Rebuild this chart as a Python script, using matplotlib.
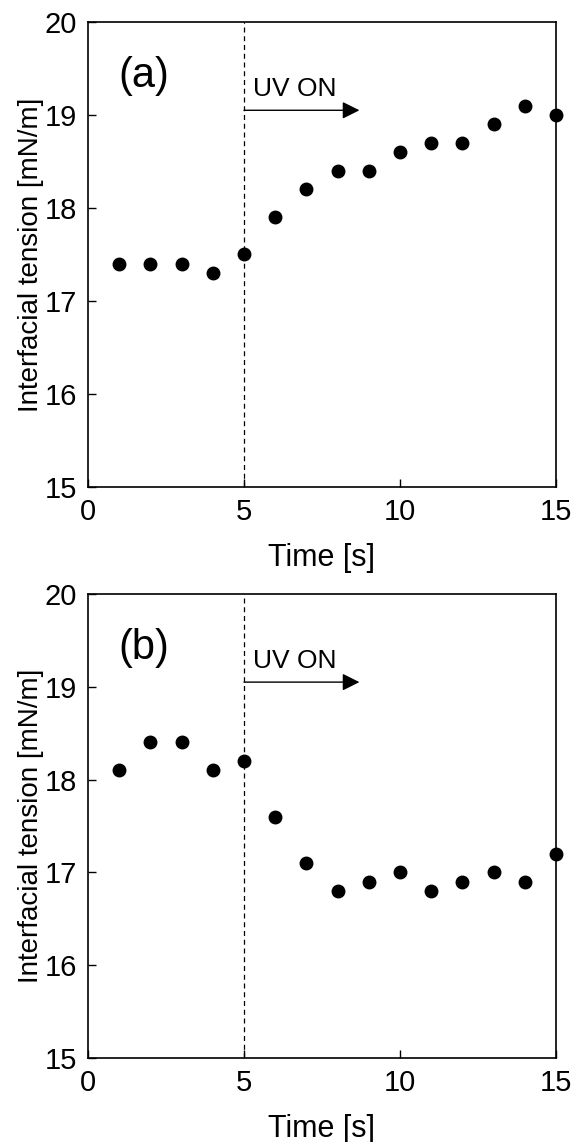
import matplotlib.pyplot as plt
import matplotlib

matplotlib.rcParams['font.family'] = ['Liberation Sans', 'DejaVu Sans']

time_s = [1, 2, 3, 4, 5, 6, 7, 8, 9, 10, 11, 12, 13, 14, 15]
tension_a = [17.4, 17.4, 17.4, 17.3, 17.5, 17.9, 18.2, 18.4, 18.4, 18.6, 18.7, 18.7, 18.9, 19.1, 19.0]
tension_b = [18.1, 18.4, 18.4, 18.1, 18.2, 17.6, 17.1, 16.8, 16.9, 17.0, 16.8, 16.9, 17.0, 16.9, 17.2]
panels = ['(a)', '(b)']
uv_on_time = 5

fig = plt.figure(figsize=(5.74, 11.42), dpi=100)
ax_a = fig.add_axes([0.1533, 0.5736, 0.8153, 0.4072])
ax_b = fig.add_axes([0.1533, 0.0736, 0.8153, 0.4063])

for ax, data, label in zip([ax_a, ax_b], [tension_a, tension_b], panels):
    ax.plot(time_s, data, 'o', color='black', markersize=9, clip_on=False, zorder=3)
    ax.axvline(uv_on_time, color='black', linestyle=(0, (4, 3)), linewidth=0.9)
    ax.set_xlim(0, 15)
    ax.set_ylim(15, 20)
    ax.set_xticks([0, 5, 10, 15])
    ax.set_yticks([15, 16, 17, 18, 19, 20])
    ax.tick_params(direction='in', length=6, width=1, labelsize=21, pad=8)
    for s in ax.spines.values():
        s.set_linewidth(1.2)
    ax.set_xlabel('Time [s]', fontsize=22)
    ax.set_ylabel('Interfacial tension [mN/m]', fontsize=20)
    ax.xaxis.set_label_coords(0.5, -0.12)
    ax.yaxis.set_label_coords(-0.095, 0.5)
    ax.text(0.96, 19.42, label, fontsize=30, ha='left', va='center')
    ax.annotate('', xy=(8.7, 19.05), xytext=(uv_on_time, 19.05),
                arrowprops=dict(arrowstyle='-|>', color='black', lw=1,
                                mutation_scale=26, shrinkA=0, shrinkB=0))
    ax.text(5.3, 19.2, 'UV ON', fontsize=19, ha='left', va='baseline')

fig.savefig('out.png', dpi=100)
